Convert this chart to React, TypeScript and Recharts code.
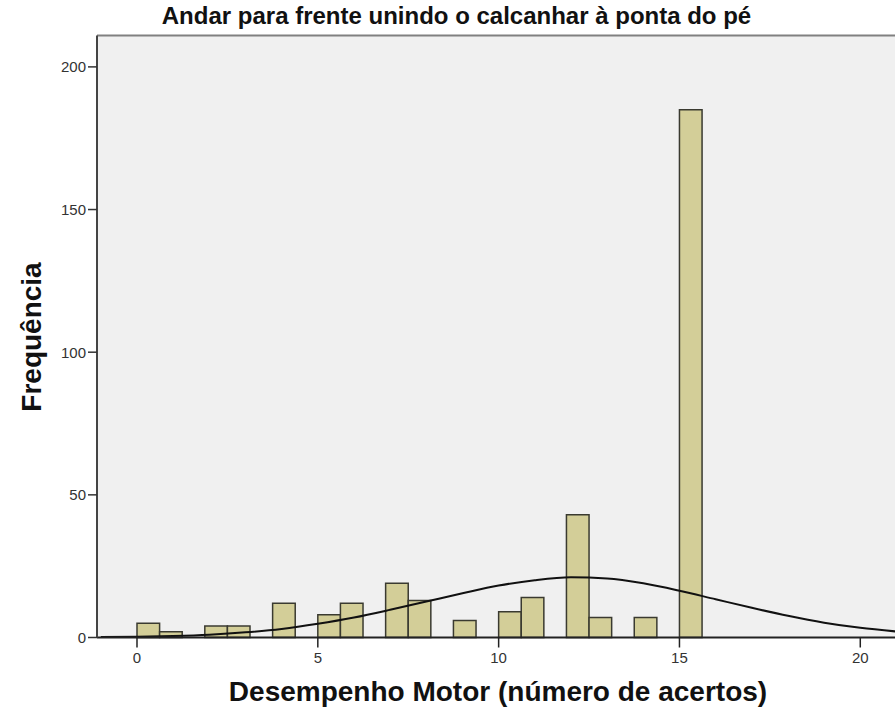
import { ComposedChart, Line, XAxis, YAxis, ReferenceArea, ReferenceLine, CartesianGrid } from 'recharts';
import type { CSSProperties } from 'react';

// histogram bins (lower edge, width 0.625) and counts
const binLow = [
  0, 0.625, 1.25, 1.875, 2.5, 3.125, 3.75, 4.375, 5, 5.625, 6.25, 6.875, 7.5,
  8.125, 8.75, 9.375, 10, 10.625, 11.25, 11.875, 12.5, 13.125, 13.75, 14.375, 15,
];
const binHigh = [
  0.625, 1.25, 1.875, 2.5, 3.125, 3.75, 4.375, 5, 5.625, 6.25, 6.875, 7.5, 8.125,
  8.75, 9.375, 10, 10.625, 11.25, 11.875, 12.5, 13.125, 13.75, 14.375, 15, 15.625,
];
const counts = [5, 2, 0, 4, 4, 0, 12, 0, 8, 12, 0, 19, 13, 0, 6, 0, 9, 14, 0, 43, 7, 0, 7, 0, 185];

// normal curve, read at whole numbers
const curveX = [-1, 0, 1, 2, 3, 4, 5, 6, 7, 8, 9, 10, 11, 12, 13, 14, 15, 16, 17, 18, 19, 20, 21];
const curveY = [
  0.15, 0.3, 0.55, 1.0, 1.8, 3.0, 4.8, 7.0, 9.7, 12.6, 15.5, 18.2, 20.1, 21.1, 20.7, 19.0,
  16.4, 13.4, 10.4, 7.6, 5.2, 3.4, 2.1,
];

const xTicks = [0, 5, 10, 15, 20];
const yTicks = [0, 50, 100, 150, 200];

const font = '"Liberation Sans", Arial, sans-serif';

const titleStyle: CSSProperties = {
  position: 'absolute',
  left: 0,
  width: 913,
  top: 2,
  textAlign: 'center',
  fontFamily: font,
  fontWeight: 700,
  fontSize: 24,
  color: '#111',
  whiteSpace: 'nowrap',
};

const xLabelStyle: CSSProperties = {
  position: 'absolute',
  left: 0,
  width: 996,
  top: 676,
  textAlign: 'center',
  fontFamily: font,
  fontWeight: 700,
  fontSize: 28,
  color: '#111',
  whiteSpace: 'nowrap',
};

const yLabelStyle: CSSProperties = {
  position: 'absolute',
  left: 32,
  top: 337,
  transform: 'translate(-50%, -50%) rotate(-90deg)',
  fontFamily: font,
  fontWeight: 700,
  fontSize: 28,
  color: '#111',
  whiteSpace: 'nowrap',
};

export default function App() {
  const data = curveX.map((x, i) => ({ x, y: curveY[i] }));

  return (
    <div style={{ position: 'absolute', left: 0, top: 0, width: 895, height: 717, background: '#fff', overflow: 'hidden' }}>
      <ComposedChart
        width={895}
        height={717}
        data={data}
        margin={{ top: 35.5, right: 0, bottom: 39.5, left: 37 }}
      >
        <CartesianGrid fill="#F0F0F0" stroke="none" horizontal={false} vertical={false} />
        <XAxis
          type="number"
          dataKey="x"
          domain={[-1.106, 20.96]}
          ticks={xTicks}
          allowDataOverflow
          height={40}
          tickSize={10}
          tickMargin={5}
          axisLine={{ stroke: '#222', strokeWidth: 2 }}
          tickLine={{ stroke: '#222', strokeWidth: 1.5 }}
          tick={{ fill: '#333', fontSize: 15, fontFamily: font }}
        />
        <YAxis
          type="number"
          domain={[0, 211]}
          ticks={yTicks}
          allowDataOverflow
          width={60}
          tickSize={9}
          tickMargin={2}
          axisLine={{ stroke: '#444', strokeWidth: 2 }}
          tickLine={{ stroke: '#333', strokeWidth: 1.5 }}
          tick={{ fill: '#333', fontSize: 15, fontFamily: font }}
        />
        <ReferenceLine y={211} stroke="#808080" strokeWidth={2} />
        {counts.map((c, i) =>
          c > 0 ? (
            <ReferenceArea
              key={i}
              x1={binLow[i]}
              x2={binHigh[i]}
              y1={0}
              y2={c}
              fill="#D3CE98"
              fillOpacity={1}
              stroke="#3a3a30"
              strokeWidth={1.5}
            />
          ) : null
        )}
        <Line
          type="monotone"
          dataKey="y"
          stroke="#111"
          strokeWidth={2}
          dot={false}
          isAnimationActive={false}
        />
      </ComposedChart>
      <div style={titleStyle}>Andar para frente unindo o calcanhar à ponta do pé</div>
      <div style={xLabelStyle}>Desempenho Motor (número de acertos)</div>
      <div style={yLabelStyle}>Frequência</div>
    </div>
  );
}
